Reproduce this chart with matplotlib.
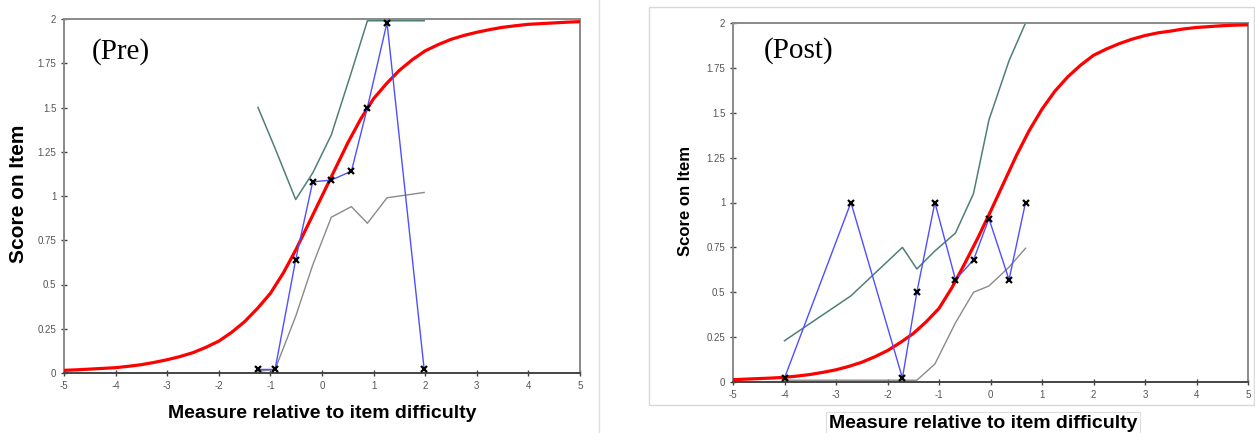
import matplotlib
matplotlib.use("Agg")
import matplotlib.pyplot as plt
from matplotlib.lines import Line2D
from matplotlib.patches import Rectangle

# ---------------- data ----------------
x_ticks = [-5, -4, -3, -2, -1, 0, 1, 2, 3, 4, 5]
y_ticks = [0, 0.25, 0.5, 0.75, 1, 1.25, 1.5, 1.75, 2]
y_tick_labels = ["0", "0.25", "0.5", "0.75", "1", "1.25", "1.5", "1.75", "2"]

# model (expected score) curves
curve_x = [-5, -4.75, -4.5, -4.25, -4, -3.75, -3.5, -3.25, -3, -2.75, -2.5, -2.25,
           -2, -1.75, -1.5, -1.25, -1, -0.75, -0.5, -0.25, 0, 0.25, 0.5, 0.75,
           1, 1.25, 1.5, 1.75, 2, 2.25, 2.5, 2.75, 3, 3.25, 3.5, 3.75, 4, 4.25,
           4.5, 4.75, 5]
pre_curve_y = [0.015, 0.018, 0.022, 0.026, 0.03, 0.038, 0.047, 0.06, 0.075, 0.093,
               0.115, 0.145, 0.18, 0.23, 0.29, 0.365, 0.45, 0.565, 0.70, 0.85, 1.0,
               1.15, 1.30, 1.435, 1.55, 1.635, 1.71, 1.77, 1.82, 1.855, 1.885, 1.907,
               1.925, 1.94, 1.953, 1.962, 1.97, 1.974, 1.978, 1.982, 1.985]
post_curve_y = [0.013, 0.016, 0.019, 0.022, 0.026, 0.033, 0.042, 0.054, 0.068, 0.087,
                0.11, 0.14, 0.175, 0.22, 0.27, 0.335, 0.41, 0.525, 0.66, 0.80, 0.95,
                1.105, 1.26, 1.40, 1.52, 1.62, 1.70, 1.765, 1.82, 1.855, 1.885, 1.91,
                1.93, 1.945, 1.955, 1.967, 1.975, 1.98, 1.985, 1.988, 1.99]

# Pre: observed scores and confidence bands
pre_x = [-1.24, -0.91, -0.51, -0.18, 0.18, 0.57, 0.88, 1.26, 1.98]
pre_obs = [0.02, 0.02, 0.64, 1.08, 1.09, 1.14, 1.50, 1.98, 0.02]
pre_upper = [1.50, 1.27, 0.98, 1.13, 1.345, 1.70, 1.99, 1.99, 1.99]
pre_lower = [0.01, 0.02, 0.32, 0.61, 0.88, 0.94, 0.846, 0.99, 1.02]

# Post: observed scores and confidence bands
post_x = [-4.0, -2.71, -1.71, -1.43, -1.08, -0.68, -0.33, -0.03, 0.36, 0.68]
post_obs = [0.022, 1.0, 0.022, 0.50, 1.0, 0.57, 0.68, 0.91, 0.57, 1.0]
post_upper = [0.23, 0.48, 0.75, 0.63, 0.73, 0.83, 1.05, 1.46, 1.79, 2.0]
post_lower = [0.01, 0.01, 0.01, 0.01, 0.10, 0.33, 0.50, 0.535, 0.64, 0.745]

# ---------------- style ----------------
RED = "#ff0000"
BLUE = "#4f4fff"
GREEN = "#4f7f78"
GREY = "#8a8a8a"
SPINE = "#8a8a8a"
TICKC = "#555555"

W, H = 1255, 433
fig = plt.figure(figsize=(W / 100, H / 100), dpi=100)


def fx(px):
    return px / W


def fy(py):
    return 1 - py / H


def panel(rect, cx, lo, hi, obs_x, obs_y, curve_y, title, title_pos,
          ylabel_pos, ylabel_size, xlabel_pos, xlabel_box=False):
    ax = fig.add_axes(rect)
    ax.plot(cx, curve_y, color=RED, lw=2.3, zorder=3, solid_capstyle="round",
            solid_joinstyle="round")
    ax.plot(obs_x, hi, color=GREEN, lw=1.1, zorder=2)
    ax.plot(obs_x, lo, color=GREY, lw=1.0, zorder=2)
    ax.plot(obs_x, obs_y, color=BLUE, lw=1.0, zorder=4,
            marker="x", mec="black", ms=4.8, mew=1.6)
    ax.set_xlim(-5, 5)
    ax.set_ylim(0, 2)
    ax.set_xticks(x_ticks)
    ax.set_xticklabels([str(t) for t in x_ticks])
    ax.set_yticks(y_ticks)
    ax.set_yticklabels(y_tick_labels)
    ax.tick_params(direction="inout", length=5, width=1.0, color="#444444",
                   labelsize=7, labelcolor=TICKC, pad=3)
    for lab in ax.get_xticklabels() + ax.get_yticklabels():
        lab.set_fontfamily("Liberation Sans")
    for s in ("left", "top", "right"):
        ax.spines[s].set_color(SPINE)
        ax.spines[s].set_linewidth(1.4)
    ax.spines["bottom"].set_color("#444444")
    ax.spines["bottom"].set_linewidth(1.4)
    fig.text(fx(title_pos[0]), fy(title_pos[1]), title, family="Liberation Serif",
             fontsize=21, ha="center", va="center")
    fig.text(fx(ylabel_pos[0]), fy(ylabel_pos[1]), "Score on Item", family="Liberation Sans",
             fontweight="bold", fontsize=ylabel_size, rotation=90, ha="center", va="center")
    kw = {}
    if xlabel_box:
        kw["bbox"] = dict(boxstyle="square,pad=0.15", fc="white", ec="#dddddd", lw=0.8)
    fig.text(fx(xlabel_pos[0]), fy(xlabel_pos[1]), "Measure relative to item difficulty",
             family="Liberation Sans", fontweight="bold", fontsize=14,
             ha="center", va="center", **kw)
    return ax


# panel frames / separators
fig.add_artist(Line2D([fx(599), fx(599)], [0, 1], color="#dddddd", lw=1.0))
fig.add_artist(Rectangle((fx(649), fy(405)), fx(1254) - fx(649), fy(7) - fy(405),
                         fill=False, ec="#d8d8d8", lw=1.0))

panel([fx(64), fy(373), fx(580) - fx(64), fy(19) - fy(373)],
      curve_x, pre_lower, pre_upper, pre_x, pre_obs, pre_curve_y,
      "(Pre)", (121, 52), (19, 194), 15, (322, 414))

panel([fx(733), fy(382), fx(1248) - fx(733), fy(23) - fy(382)],
      curve_x, post_lower, post_upper, post_x, post_obs, post_curve_y,
      "(Post)", (799, 51), (686, 201), 12, (983, 423), xlabel_box=True)

fig.savefig("out.png", dpi=100)
